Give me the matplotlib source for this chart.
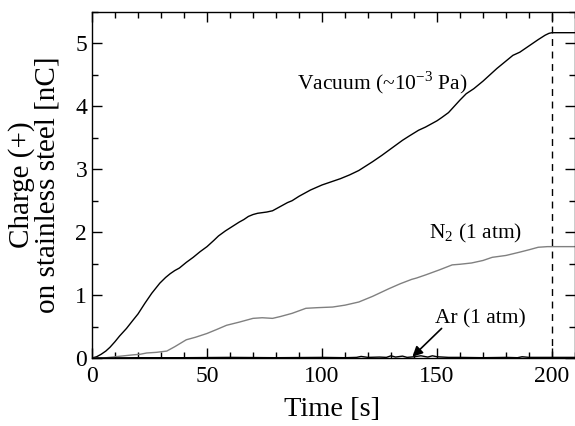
import matplotlib.pyplot as plt
from matplotlib.ticker import MultipleLocator

plt.rcParams['font.family'] = ['Liberation Serif', 'DejaVu Serif']
plt.rcParams['mathtext.fontset'] = 'custom'
plt.rcParams['mathtext.rm'] = 'Liberation Serif'

# Vacuum (~1e-3 Pa)
vac_t = [0, 2, 4, 6, 7.8, 10, 12, 15, 17.8, 20, 23, 26, 29.5, 32, 34, 36, 38, 41, 44, 47, 50,
         53, 55, 58, 61, 64, 66, 68, 70, 72, 74, 76, 78.5, 80, 82, 85, 87, 90, 95, 100, 104, 108,
         112, 116, 119, 122, 126, 129, 132, 135, 138, 142, 145, 147, 150, 152, 155, 157, 160,
         162.7, 166, 170, 173, 176, 180, 183, 186, 190, 194, 197, 198.7, 200, 205, 210]
vac_q = [0, 0.02, 0.06, 0.11, 0.17, 0.26, 0.35, 0.47, 0.6, 0.7, 0.87, 1.03, 1.19, 1.28, 1.34,
         1.39, 1.43, 1.52, 1.6, 1.69, 1.77, 1.87, 1.94, 2.02, 2.09, 2.16, 2.2, 2.25, 2.28, 2.3,
         2.31, 2.32, 2.34, 2.37, 2.41, 2.47, 2.5, 2.57, 2.67, 2.75, 2.8, 2.85, 2.91, 2.98, 3.05,
         3.12, 3.22, 3.3, 3.38, 3.46, 3.53, 3.62, 3.67, 3.71, 3.77, 3.82, 3.9, 3.98, 4.1, 4.2,
         4.28, 4.4, 4.5, 4.6, 4.72, 4.81, 4.86, 4.96, 5.06, 5.13, 5.16, 5.17, 5.17, 5.17]

# N2 (1 atm)
n2_t = [0, 5, 10, 17.8, 21, 23.8, 28, 32.5, 36, 41, 45, 50, 54, 58.5, 64, 70, 74, 78.5, 82, 87,
        93, 98, 104.6, 110, 116, 122, 129, 134, 139, 141, 145, 151, 156.6, 160, 165, 170, 174,
        180, 185.7, 190, 194, 198, 200, 205, 210]
n2_q = [0, 0.0, 0.02, 0.05, 0.06, 0.08, 0.09, 0.11, 0.18, 0.29, 0.33, 0.39, 0.45, 0.52, 0.57,
        0.63, 0.64, 0.63, 0.66, 0.71, 0.79, 0.8, 0.81, 0.84, 0.89, 0.98, 1.1, 1.18, 1.25, 1.27,
        1.32, 1.4, 1.48, 1.49, 1.51, 1.55, 1.6, 1.63, 1.68, 1.72, 1.76, 1.77, 1.77, 1.77, 1.77]

# Ar (1 atm)
ar_t = [0, 20, 40, 60, 80, 100, 110, 115, 117, 120, 125, 128, 130, 132, 135, 137, 140, 143, 146,
        148, 150, 155, 160, 170, 180, 185, 187, 190, 200, 210]
ar_q = [0, 0.005, 0.005, 0.01, 0.005, 0.01, 0.005, 0.01, 0.025, 0.01, 0.015, 0.01, 0.035, 0.015,
        0.03, 0.01, 0.02, 0.035, 0.015, 0.035, 0.02, 0.01, 0.01, 0.005, 0.01, 0.005, 0.02, 0.01,
        0.01, 0.01]

fig = plt.figure(figsize=(5.75, 4.26), dpi=100)
ax = fig.add_axes([0.16, 0.1596, 0.84, 0.8124])

ax.plot(vac_t, vac_q, color='black', lw=1.0)
ax.plot(n2_t, n2_q, color='#808080', lw=1.0)
ax.plot(ar_t, ar_q, color='black', lw=1.0)
ax.axvline(200, color='black', lw=1.0, ls=(0, (5, 4)))

ax.set_xlim(0, 210)
ax.set_ylim(0, 5.5)
ax.xaxis.set_major_locator(MultipleLocator(50))
ax.xaxis.set_minor_locator(MultipleLocator(10))
ax.yaxis.set_major_locator(MultipleLocator(1))
ax.yaxis.set_minor_locator(MultipleLocator(0.5))
ax.tick_params(which='both', direction='in', top=True, right=True, labelsize=17, width=1)
ax.tick_params(which='major', length=7)
ax.tick_params(axis='x', pad=6)
ax.tick_params(which='minor', length=4)
for s in ax.spines.values():
    s.set_linewidth(1.0)

ax.set_xlabel('Time [s]', fontsize=20.5)
ax.xaxis.set_label_coords(0.497, -0.112)
ax.set_ylabel('Charge (+)\non stainless steel [nC]', fontsize=21, linespacing=0.95)
ax.yaxis.set_label_coords(-0.066, 0.5)

ax.text(89, 4.38, r'Vacuum (~10$^{\mathrm{-3}}$ Pa)', fontsize=15.5, va='center', ha='left')
ax.text(146.5, 1.98, r'N$_2$ (1 atm)', fontsize=15.5, va='center', ha='left')
ax.text(149, 0.63, 'Ar (1 atm)', fontsize=15.5, va='center', ha='left')
ax.annotate('', xy=(139.3, 0.02), xytext=(152, 0.47),
            arrowprops=dict(arrowstyle='-|>', color='black', lw=1.2, shrinkA=0, shrinkB=0,
                            mutation_scale=15))

fig.savefig('out.png', dpi=100)
